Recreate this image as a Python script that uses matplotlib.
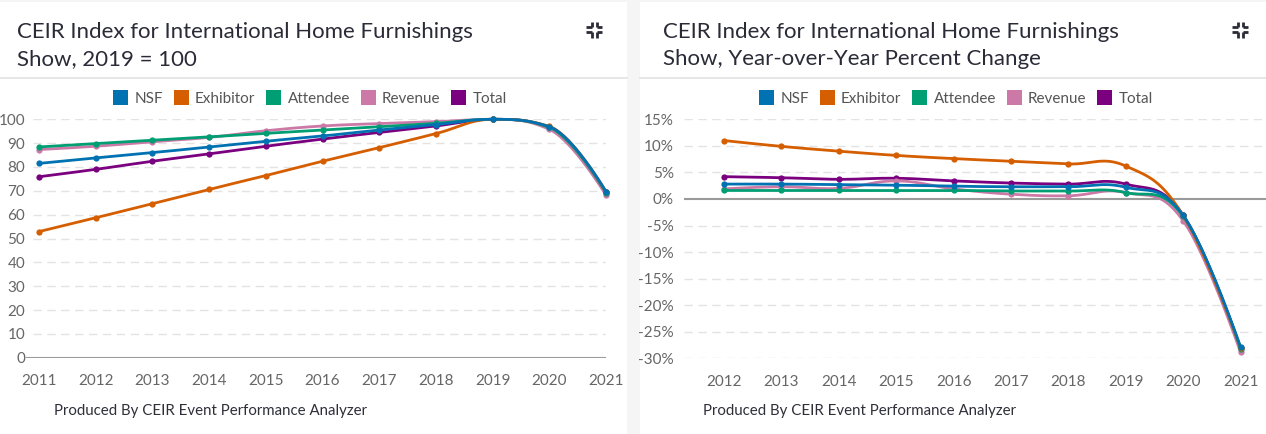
import matplotlib
matplotlib.use("Agg")
import matplotlib.pyplot as plt
from matplotlib.patches import Rectangle, Patch
from matplotlib.lines import Line2D
import numpy as np

plt.rcParams['font.family'] = ['Lato', 'DejaVu Sans']

# ---------------- data ----------------
series_names = ["NSF", "Exhibitor", "Attendee", "Revenue", "Total"]
series_colors = ["#0072B2", "#D55E00", "#009E73", "#CC79A7", "#7A0080"]

years_index = [2011, 2012, 2013, 2014, 2015, 2016, 2017, 2018, 2019, 2020, 2021]
index_nsf       = [81.5, 83.8, 86.0, 88.4, 90.8, 93.0, 95.5, 97.8, 100, 96.9, 69.7]
index_exhibitor = [52.9, 58.7, 64.6, 70.6, 76.4, 82.4, 88.1, 94.0, 100, 97.0, 69.5]
index_attendee  = [88.4, 89.8, 91.2, 92.6, 94.1, 95.5, 96.9, 98.3, 100, 96.6, 69.2]
index_revenue   = [87.3, 88.7, 90.6, 92.4, 95.2, 97.2, 98.2, 99.0, 100, 95.8, 68.2]
index_total     = [75.9, 79.0, 82.4, 85.5, 88.7, 91.7, 94.5, 97.2, 100, 96.6, 69.4]

years_yoy = [2012, 2013, 2014, 2015, 2016, 2017, 2018, 2019, 2020, 2021]
yoy_nsf       = [2.8, 2.8, 2.7, 2.6, 2.4, 2.3, 2.3, 2.2, -3.1, -27.9]
yoy_exhibitor = [11.0, 9.9, 9.0, 8.2, 7.6, 7.1, 6.6, 6.2, -3.1, -28.0]
yoy_attendee  = [1.6, 1.6, 1.6, 1.6, 1.6, 1.5, 1.5, 1.2, -3.3, -28.2]
yoy_revenue   = [1.9, 2.3, 2.0, 3.4, 1.9, 0.9, 0.6, 1.2, -4.1, -28.9]
yoy_total     = [4.2, 4.0, 3.7, 3.9, 3.4, 3.0, 2.8, 2.8, -3.1, -28.1]

index_values = [index_nsf, index_exhibitor, index_attendee, index_revenue, index_total]
yoy_values = [yoy_nsf, yoy_exhibitor, yoy_attendee, yoy_revenue, yoy_total]

title_left = "CEIR Index for International Home Furnishings\nShow, 2019 = 100"
title_right = "CEIR Index for International Home Furnishings\nShow, Year-over-Year Percent Change"
footer = "Produced By CEIR Event Performance Analyzer"

# ---------------- helpers ----------------
W, H = 1266, 434


def fx(x):
    return x / W


def fy(y):
    return 1 - y / H


def spline(xs, ys, clamp, n=40):
    """Highcharts-like spline (smoothing 1.5) through the points."""
    xs = np.asarray(xs, float)
    ys = np.asarray(ys, float)
    N = len(xs)
    s = 1.5
    d = s + 1
    lc = [None] * N
    rc = [None] * N
    for i in range(1, N - 1):
        px, py = xs[i], ys[i]
        lx, ly = xs[i - 1], ys[i - 1]
        nx, ny = xs[i + 1], ys[i + 1]
        lcx = (s * px + lx) / d
        lcy = (s * py + ly) / d
        rcx = (s * px + nx) / d
        rcy = (s * py + ny) / d
        corr = ((rcy - lcy) * (rcx - px)) / (rcx - lcx) + py - rcy
        lcy += corr
        rcy += corr
        if clamp:
            if lcy > ly and lcy > py:
                lcy = max(ly, py); rcy = 2 * py - lcy
            elif lcy < ly and lcy < py:
                lcy = min(ly, py); rcy = 2 * py - lcy
            if rcy > ny and rcy > py:
                rcy = max(ny, py); lcy = 2 * py - rcy
            elif rcy < ny and rcy < py:
                rcy = min(ny, py); lcy = 2 * py - rcy
        lc[i] = (lcx, lcy)
        rc[i] = (rcx, rcy)
    outx, outy = [xs[0]], [ys[0]]
    t = np.linspace(0, 1, n)[1:]
    for i in range(1, N):
        p0 = np.array([xs[i - 1], ys[i - 1]])
        p3 = np.array([xs[i], ys[i]])
        p1 = np.array(rc[i - 1]) if rc[i - 1] is not None else p0
        p2 = np.array(lc[i]) if lc[i] is not None else p3
        b = ((1 - t) ** 3)[:, None] * p0 + (3 * (1 - t) ** 2 * t)[:, None] * p1 \
            + (3 * (1 - t) * t ** 2)[:, None] * p2 + (t ** 3)[:, None] * p3
        outx.extend(b[:, 0])
        outy.extend(b[:, 1])
    return np.array(outx), np.array(outy)


fig = plt.figure(figsize=(W / 100, H / 100), dpi=100)
fig.patch.set_facecolor("#f5f5f5")

# cards
for x0, x1 in [(0, 627), (640, 1266)]:
    fig.patches.append(Rectangle((fx(x0), 0), fx(x1 - x0), fy(2), transform=fig.transFigure,
                                 facecolor="white", edgecolor="none", zorder=-10))
    fig.lines.append(Line2D([fx(x0), fx(x1)], [fy(78), fy(78)], transform=fig.transFigure,
                            color="#e2e2e2", lw=1.2, zorder=-5))

title_color = "#2b2b38"
tick_color = "#666666"


def icon(cx, cy):
    # compress icon: four inward corners
    a = 2.5  # half gap
    L = 5.5
    kw = dict(transform=fig.transFigure, color="#2b2b38", lw=2.0, solid_capstyle="butt")
    for sx in (-1, 1):
        for sy in (-1, 1):
            vx = cx + sx * a
            hy = cy + sy * a
            fig.lines.append(Line2D([fx(vx), fx(vx)], [fy(hy), fy(cy + sy * (a + L))], **kw))
            fig.lines.append(Line2D([fx(vx), fx(cx + sx * (a + L))], [fy(hy), fy(hy)], **kw))


def make_panel(title, title_x, footer_x, icon_x, legend_cx, ax_rect, years, values, ylim,
               yticks, yfmt, xlim, ypad, grid_start, clamp):
    fig.text(fx(title_x), fy(65), title,
             fontsize=16, color=title_color, ha="left", va="baseline", linespacing=1.45)
    icon(icon_x, 29.5)
    fig.text(fx(footer_x), fy(411), footer, fontsize=10.8, color="#2f2f3a",
             ha="left", va="center")

    ax = fig.add_axes(ax_rect)
    ax.set_facecolor("none")
    ax.set_xlim(*xlim)
    ax.set_ylim(*ylim)
    for sp in ax.spines.values():
        sp.set_visible(False)
    ax.set_yticks(yticks)
    ax.set_yticklabels([yfmt(v) for v in yticks])
    ax.set_xticks(years)
    ax.set_xticklabels([str(y) for y in years])
    ax.tick_params(axis="both", length=0, labelsize=11, labelcolor=tick_color)
    ax.tick_params(axis="x", pad=12)
    ax.tick_params(axis="y", pad=ypad)
    for v in yticks:
        if v == 0:
            continue
        ax.axhline(v, color="#e3e3e3", lw=1.0, ls=(0, (6, 4)), zorder=1,
                   xmin=grid_start, xmax=1)
    ax.axhline(0, color="#9a9a9a", lw=1.5, zorder=2)

    n = len(series_names)
    for k in range(n):
        vals = values[k]
        col = series_colors[k]
        z = 10 + (n - k) * 2
        sx, sy = spline(years, vals, clamp)
        ax.plot(sx, sy, color=col, lw=2.0, zorder=z, clip_on=False, solid_capstyle="round")
        ax.plot(years, vals, "o", color=col, ms=4.5, zorder=z + 1, clip_on=False, mew=0)

    handles = [Patch(facecolor=c, edgecolor="none", label=nm)
               for nm, c in zip(series_names, series_colors)]
    leg = fig.legend(handles=handles, loc="center", ncol=5,
                     bbox_to_anchor=(fx(legend_cx), fy(98)), bbox_transform=fig.transFigure,
                     frameon=False, fontsize=11, handlelength=0.98, handleheight=1.15,
                     handletextpad=0.4, columnspacing=0.72, borderaxespad=0)
    for t in leg.get_texts():
        t.set_color("#555555")
    return ax


# left panel: 2011 at x=39, 2021 at x=606; y 0 at 357.7, 100 at 119.3
l_ax0, l_ax1 = 26, 606
ppy_l = (606 - 39) / 10
make_panel(title_left, 17, 54, 594, 310,
           [fx(l_ax0), fy(357.7), fx(l_ax1 - l_ax0), (357.7 - 119.3) / H],
           years_index, index_values, (0, 100), list(range(0, 101, 10)),
           lambda v: f"{v:d}", (2011 - (39 - l_ax0) / ppy_l, 2021), 0.5, 0.012, True)

# right panel: 2012 at 724, 2021 at 1240.6; 15% at 119.3, -30% at 358.3
r_ax0, r_ax1 = 683.5, 1266
ppy_r = (1240.6 - 724) / 9
make_panel(title_right, 663, 703, 1240, 956,
           [fx(r_ax0), fy(358.3), fx(r_ax1 - r_ax0), (358.3 - 119.3) / H],
           years_yoy, yoy_values, (-30, 15), list(range(-30, 16, 5)),
           lambda v: f"{v:d}%", (2012 - (724 - r_ax0) / ppy_r, 2021 + (r_ax1 - 1240.6) / ppy_r),
           7, 0.0, False)

fig.savefig("out.png", dpi=100, facecolor=fig.get_facecolor())
